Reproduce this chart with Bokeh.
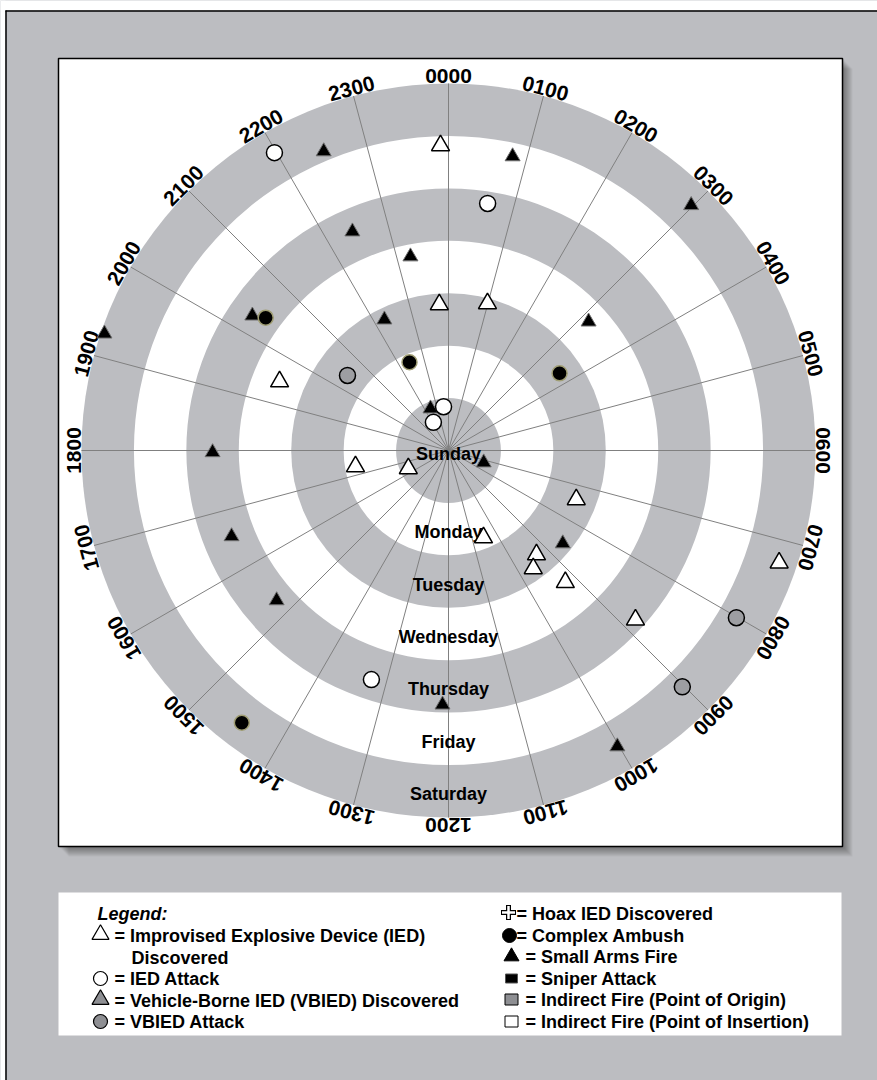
import math
from bokeh.plotting import figure
from bokeh.models import Range1d
from bokeh.core.properties import value
from bokeh.embed import file_html
from bokeh.resources import INLINE

# ---------------- data ----------------
DAYS = ["Sunday", "Monday", "Tuesday", "Wednesday", "Thursday", "Friday", "Saturday"]
HOUR_LABELS = ["0000", "0100", "0200", "0300", "0400", "0500", "0600", "0700",
               "0800", "0900", "1000", "1100", "1200", "1300", "1400", "1500",
               "1600", "1700", "1800", "1900", "2000", "2100", "2200", "2300"]

# hour of day (decimal) and position across the day rings (0 = centre, Sunday 0-1 ... Saturday 6-7)
ied_disc_hour = [23.90, 23.76, 0.99, 19.48, 17.35, 16.39, 7.40, 10.54, 9.32, 9.62, 9.23, 8.81, 7.25]
ied_disc_day = [5.82, 2.79, 2.90, 3.48, 1.80, 0.84, 2.61, 1.79, 2.60, 2.77, 3.36, 4.81, 6.66]

ied_attack_hour = [21.98, 0.60, 23.57, 22.12, 13.24]
ied_attack_day = [6.58, 4.77, 0.84, 0.61, 4.61]

saf_hour = [22.49, 0.82, 2.98, 22.42, 23.26, 20.30, 22.26, 3.16, 19.25, 22.45,
            7.26, 17.97, 8.61, 16.56, 15.26, 12.09, 10.02]
saf_day = [6.18, 5.74, 6.58, 4.56, 3.77, 4.54, 2.78, 3.63, 6.93, 0.87,
           0.71, 4.50, 2.81, 4.45, 4.35, 4.85, 6.50]

ambush_hour = [20.40, 22.41, 3.68, 14.48]
ambush_day = [4.31, 1.84, 2.58, 6.52]

vbied_attack_hour = [20.44, 8.01, 9.02]
vbied_attack_day = [2.40, 6.35, 6.34]

LEGEND_LEFT = ["= Improvised Explosive Device (IED)", "Discovered", "= IED Attack",
               "= Vehicle-Borne IED (VBIED) Discovered", "= VBIED Attack"]
LEGEND_RIGHT = ["= Hoax IED Discovered", "= Complex Ambush", "= Small Arms Fire",
                "= Sniper Attack", "= Indirect Fire (Point of Origin)",
                "= Indirect Fire (Point of Insertion)"]

# ---------------- styling / geometry ----------------
BG = "#bcbdc1"
RING_GRAY = "#bcbdc1"
FONT = value("Liberation Sans")
CX, CY = 448, -450          # page coords, y negated
RW = 52.43                  # ring width (one day)

W, H = 877, 1080
p = figure(width=W, height=H, x_range=Range1d(0, W), y_range=Range1d(-H, 0),
           output_backend="svg", toolbar_location=None, min_border=0,
           x_axis_location=None, y_axis_location=None)
p.grid.visible = False
p.outline_line_color = None
p.background_fill_color = BG
p.border_fill_color = BG

# page frame
p.quad(left=0, right=W, top=0, bottom=-10, fill_color="white", line_color=None)
p.quad(left=0, right=5, top=0, bottom=-H, fill_color="white", line_color=None)
p.segment(x0=[5], y0=[-10.5], x1=[W], y1=[-10.5], line_color="black", line_width=1.5)
p.segment(x0=[5.5], y0=[-10], x1=[5.5], y1=[-H], line_color="black", line_width=1.5)

# chart panel with shadow
for k in range(1, 11):
    p.quad(left=58 + k, right=842 + k, top=-(58 + k), bottom=-(846 + k),
           fill_color="black", fill_alpha=0.045, line_color=None)
p.quad(left=58, right=842, top=-58, bottom=-846, fill_color="white",
       line_color="black", line_width=1.5)

# legend panel
p.quad(left=58, right=841, top=-892, bottom=-1035, fill_color="white", line_color=None)

# rings (outer first)
for i in range(len(DAYS), 0, -1):
    p.circle(x=[CX], y=[CY], radius=i * RW,
             fill_color=RING_GRAY if i % 2 == 1 else "white", line_color=None)

# spokes
n = len(HOUR_LABELS)
R_OUT = len(DAYS) * RW
ang = [2 * math.pi * k / n for k in range(n)]
p.segment(x0=[CX] * n, y0=[CY] * n,
          x1=[CX + R_OUT * math.sin(a) for a in ang],
          y1=[CY + R_OUT * math.cos(a) for a in ang],
          line_color="#808080", line_width=1)

# hour labels
RL = R_OUT + 7.5
p.text(x=[CX + RL * math.sin(a) for a in ang], y=[CY + RL * math.cos(a) for a in ang],
       text=HOUR_LABELS, angle=[-a for a in ang], text_align="center",
       text_baseline="alphabetic", text_font=FONT, text_font_size="21px",
       text_font_style="bold", text_color="black")

# day labels
day_y = [CY - 3] + [CY - ((i + 0.5) * RW + 3) for i in range(1, len(DAYS))]
p.text(x=[CX] * len(DAYS), y=day_y, text=DAYS, text_align="center", text_baseline="middle",
       text_font=FONT, text_font_size="18px", text_font_style="bold", text_color="black")


def polar(hours, days):
    xs = [CX + d * RW * math.sin(h / 24 * 2 * math.pi) for h, d in zip(hours, days)]
    ys = [CY + d * RW * math.cos(h / 24 * 2 * math.pi) for h, d in zip(hours, days)]
    return xs, ys


x, y = polar(saf_hour, saf_day)
p.scatter(x, y, marker="triangle", size=15, fill_color="black", line_color="#6e6e6e", line_width=1)
x, y = polar(ambush_hour, ambush_day)
p.scatter(x, y, marker="circle", size=15, fill_color="black", line_color="#a09e74", line_width=1.5)
x, y = polar(vbied_attack_hour, vbied_attack_day)
p.scatter(x, y, marker="circle", size=16, fill_color="#9d9ea2", line_color="black", line_width=1.5)
x, y = polar(ied_attack_hour, ied_attack_day)
p.scatter(x, y, marker="circle", size=16, fill_color="white", line_color="black", line_width=1.5)
x, y = polar(ied_disc_hour, ied_disc_day)
p.scatter(x, y, marker="triangle", size=18, fill_color="white", line_color="black", line_width=1.5)

# ---------------- legend ----------------
LFS = "18px"
p.text(x=[97], y=[-913], text=["Legend:"], text_font=FONT, text_font_size=LFS,
       text_font_style="bold italic", text_baseline="middle")
left_y = [-935, -957, -978, -1000, -1021]
left_x = [114, 131, 114, 114, 114]
p.text(x=left_x, y=left_y, text=LEGEND_LEFT, text_font=FONT, text_font_size=LFS,
       text_font_style="bold", text_baseline="middle")
# left symbols
p.scatter([100], [-934], marker="triangle", size=17, fill_color="white", line_color="black", line_width=1.2)
p.scatter([100], [-978], marker="circle", size=14, fill_color="white", line_color="black", line_width=1.2)
p.scatter([100], [-999], marker="triangle", size=17, fill_color="#8e8f93", line_color="black", line_width=1.2)
p.scatter([100], [-1021], marker="circle", size=14, fill_color="#8e8f93", line_color="black", line_width=1.2)

right_y = [-913, -935, -956, -978, -999, -1021]
right_x = [516, 516, 525, 525, 525, 525]
p.text(x=right_x, y=right_y, text=LEGEND_RIGHT, text_font=FONT, text_font_size=LFS,
       text_font_style="bold", text_baseline="middle")
# right symbols
p.scatter([508], [-912], marker="cross", size=15, line_color="black", line_width=5)
p.scatter([508], [-912], marker="cross", size=13, line_color="white", line_width=2.5)
p.scatter([509], [-935], marker="circle", size=14, fill_color="black", line_color="black")
p.scatter([511], [-956], marker="triangle", size=15, fill_color="black", line_color="black")
p.rect([511], [-978], width=12, height=9, width_units="screen", height_units="screen",
       fill_color="black", line_color="#555555", line_width=1)
p.rect([511], [-999], width=13, height=11, width_units="screen", height_units="screen",
       fill_color="#8e8f93", line_color="black", line_width=1)
p.rect([511], [-1021], width=13, height=11, width_units="screen", height_units="screen",
       fill_color="white", line_color="black", line_width=1)

open("out.html", "w").write(file_html(p, INLINE))
